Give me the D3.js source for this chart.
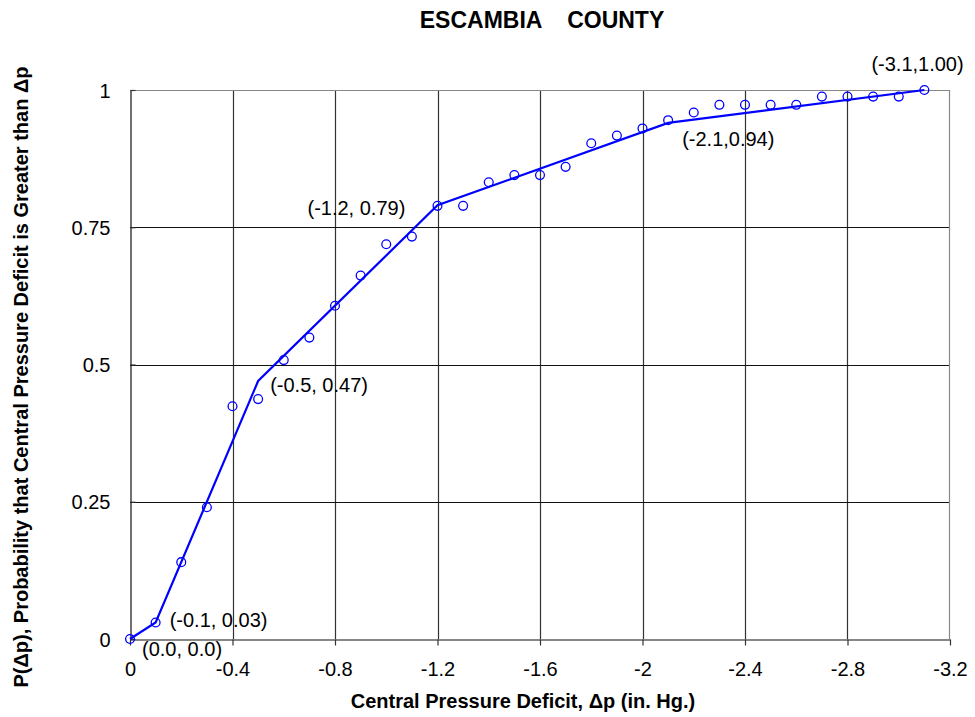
<!DOCTYPE html>
<html>
<head>
<meta charset="utf-8">
<script src="https://cdn.jsdelivr.net/npm/d3@7"></script>
<style>
  body { margin: 0; background: #fff; }
  svg text { font-family: Arial, "Liberation Sans", sans-serif; fill: #000; }
</style>
</head>
<body>
<div id="chart"></div>
<script>
// Observed exceedance probabilities
const deficits = [0, -0.1, -0.2, -0.3, -0.4, -0.5, -0.6, -0.7, -0.8, -0.9, -1.0, -1.1, -1.2, -1.3, -1.4, -1.5,
    -1.6, -1.7, -1.8, -1.9, -2.0, -2.1, -2.2, -2.3, -2.4, -2.5, -2.6, -2.7, -2.8, -2.9, -3.0, -3.1];
const probs = [0, 0.03, 0.14, 0.24, 0.424, 0.437, 0.508, 0.549, 0.607, 0.662, 0.719, 0.733, 0.789, 0.789, 0.832, 0.845,
    0.845, 0.860, 0.903, 0.917, 0.930, 0.945, 0.959, 0.973, 0.973, 0.973, 0.973, 0.988, 0.988, 0.988, 0.988, 1.0];

// Piecewise linear fit (breakpoints)
const fitX = [0, -0.1, -0.5, -1.2, -2.1, -3.1];
const fitY = [0, 0.03, 0.47, 0.79, 0.94, 1.0];
const fitLabels = ['(0.0, 0.0)', '(-0.1, 0.03)', '(-0.5, 0.47)', '(-1.2, 0.79)', '(-2.1,0.94)', '(-3.1,1.00)'];
// label offsets from breakpoint, pixels
const labelDx = [12, 14, 12, -130, 14, -53];
const labelDy = [17, 4, 11, 10, 23, -19];

const xTicks = [0, -0.4, -0.8, -1.2, -1.6, -2, -2.4, -2.8, -3.2];
const yTicks = [0, 0.25, 0.5, 0.75, 1];

const W = 975, H = 717;
const margin = { top: 90, right: 25, bottom: 78, left: 130 };
const width = W - margin.left - margin.right;
const height = H - margin.top - margin.bottom;

const svgRoot = d3.select('#chart').append('svg')
    .attr('width', W).attr('height', H);
const svg = svgRoot.append('g')
    .attr('transform', `translate(${margin.left},${margin.top})`);

const x = d3.scaleLinear().domain([0, -3.2]).range([0, width]);
const y = d3.scaleLinear().domain([0, 1]).range([height, 0]);

// Grid
svg.selectAll('.vgrid').data(xTicks.slice(1, -1)).enter().append('line')
    .attr('x1', d => Math.round(x(d)) + 0.5).attr('x2', d => Math.round(x(d)) + 0.5)
    .attr('y1', 0).attr('y2', height)
    .attr('stroke', '#333').attr('stroke-width', 1.2);
svg.selectAll('.hgrid').data(yTicks.slice(1, -1)).enter().append('line')
    .attr('x1', 0).attr('x2', width)
    .attr('y1', d => Math.round(y(d)) + 0.5).attr('y2', d => Math.round(y(d)) + 0.5)
    .attr('stroke', '#111').attr('stroke-width', 1.2);

// Frame top/right
svg.append('path')
    .attr('d', `M0,0.5H${width - 0.5}V${height}`)
    .attr('fill', 'none').attr('stroke', '#888').attr('stroke-width', 1.2);

// Axes
const xAxis = svg.append('g')
    .attr('transform', `translate(0,${height + 0.5})`)
    .call(d3.axisBottom(x).tickValues(xTicks).tickSize(6).tickSizeOuter(0).tickFormat(d => d === 0 ? '0' : String(d)));
const yAxis = svg.append('g')
    .attr('transform', 'translate(0.5,0)')
    .call(d3.axisLeft(y).tickValues(yTicks).tickSize(-5).tickSizeOuter(0).tickFormat(d => String(d)));
[xAxis, yAxis].forEach(a => {
    a.select('.domain').attr('stroke', '#111').attr('stroke-width', 1.2);
    a.selectAll('.tick line').attr('stroke', '#333').attr('stroke-width', 1.2);
    a.selectAll('.tick text').style('font-size', '20px').attr('fill', '#000');
});
xAxis.selectAll('.tick text').attr('dy', 0).attr('y', 36);
yAxis.selectAll('.tick text').attr('x', -20).attr('dy', '0.35em');

// Fit line
const fit = fitX.map((v, i) => ({ x: v, y: fitY[i], label: fitLabels[i], dx: labelDx[i], dy: labelDy[i] }));
svg.append('path')
    .datum(fit)
    .attr('d', d3.line().x(d => x(d.x)).y(d => y(d.y)))
    .attr('fill', 'none').attr('stroke', '#0000ff').attr('stroke-width', 2.2);

// Observed points
const pts = deficits.map((v, i) => ({ x: v, y: probs[i] }));
svg.selectAll('.pt').data(pts).enter().append('circle')
    .attr('cx', d => x(d.x)).attr('cy', d => y(d.y)).attr('r', 4.4)
    .attr('fill', 'none').attr('stroke', '#0000ff').attr('stroke-width', 1.3);

// Breakpoint labels
svg.selectAll('.fitlabel').data(fit).enter().append('text')
    .attr('x', d => x(d.x) + d.dx).attr('y', d => y(d.y) + d.dy)
    .style('font-size', '20px')
    .text(d => d.label);

// Titles
svgRoot.append('text')
    .attr('x', 542).attr('y', 28).attr('text-anchor', 'middle')
    .attr('xml:space', 'preserve')
    .style('font-size', '23px').style('font-weight', 'bold').style('white-space', 'pre')
    .text('ESCAMBIA    COUNTY');
svgRoot.append('text')
    .attr('x', 523).attr('y', 708).attr('text-anchor', 'middle')
    .style('font-size', '20px').style('font-weight', 'bold')
    .text('Central Pressure Deficit, \u0394p (in. Hg.)');
svgRoot.append('text')
    .attr('transform', 'translate(28,377) rotate(-90)').attr('text-anchor', 'middle')
    .style('font-size', '20px').style('font-weight', 'bold')
    .text('P(\u0394p), Probability that Central Pressure Deficit is Greater than \u0394p');
</script>
</body>
</html>
